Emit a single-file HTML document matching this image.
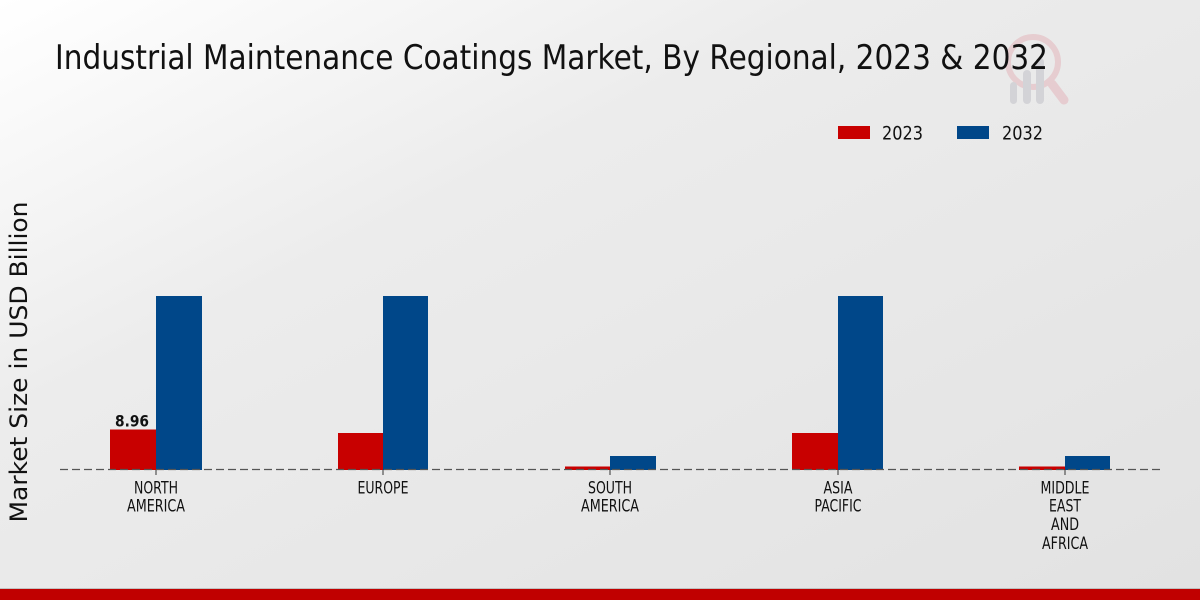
<!DOCTYPE html>
<html>
<head>
<meta charset="utf-8">
<style>
  html, body { margin: 0; padding: 0; }
  body { width: 1200px; height: 600px; overflow: hidden; }
  svg { display: block; }
  text { font-family: "DejaVu Sans", "Liberation Sans", sans-serif; }
</style>
</head>
<body>
<svg width="1200" height="600" viewBox="0 0 1200 600" xmlns="http://www.w3.org/2000/svg">
  <defs>
    <linearGradient id="bg" x1="0" y1="0" x2="1" y2="1" gradientUnits="objectBoundingBox">
      <stop offset="0" stop-color="#ffffff"/>
      <stop offset="0.35" stop-color="#ececec"/>
      <stop offset="1" stop-color="#e2e2e2"/>
    </linearGradient>
  </defs>
  <rect x="0" y="0" width="1200" height="600" fill="url(#bg)"/>

  <!-- logo watermark -->
  <g opacity="0.85">
    <circle cx="1033" cy="62" r="25" fill="none" stroke="#e6c8cc" stroke-width="6"/>
    <line x1="1052" y1="84" x2="1064" y2="100" stroke="#e6c8cc" stroke-width="9" stroke-linecap="round"/>
    <rect x="1010" y="82" width="7" height="22" rx="3.5" fill="#d0d0d4"/>
    <rect x="1023" y="70" width="8" height="34" rx="4" fill="#d0d0d4"/>
    <rect x="1036" y="58" width="8" height="46" rx="4" fill="#d0d0d4"/>
  </g>

  <!-- title -->
  <text x="55" y="69" font-size="34" fill="#111" textLength="993" lengthAdjust="spacingAndGlyphs">Industrial Maintenance Coatings Market, By Regional, 2023 &amp; 2032</text>

  <!-- legend -->
  <rect x="838" y="126" width="32" height="13" fill="#c80000"/>
  <text x="882" y="139.5" font-size="19" fill="#111" textLength="41" lengthAdjust="spacingAndGlyphs">2023</text>
  <rect x="957" y="126" width="32" height="13" fill="#004789"/>
  <text x="1002" y="139.5" font-size="19" fill="#111" textLength="41" lengthAdjust="spacingAndGlyphs">2032</text>

  <!-- y axis label -->
  <text transform="translate(27,362) rotate(-90)" text-anchor="middle" font-size="24" fill="#111" textLength="321" lengthAdjust="spacingAndGlyphs">Market Size in USD Billion</text>

  <!-- bars -->
  <g>
    <rect x="110" y="429.5" width="46" height="40.5" fill="#c80000"/>
    <rect x="156" y="296" width="46" height="174" fill="#004789"/>

    <rect x="338" y="433" width="45" height="37" fill="#c80000"/>
    <rect x="383" y="296" width="45" height="174" fill="#004789"/>

    <rect x="565" y="466.5" width="45" height="3.5" fill="#c80000"/>
    <rect x="610" y="456" width="46" height="14" fill="#004789"/>

    <rect x="792" y="433" width="46" height="37" fill="#c80000"/>
    <rect x="838" y="296" width="45" height="174" fill="#004789"/>

    <rect x="1019" y="466.5" width="46" height="3.5" fill="#c80000"/>
    <rect x="1065" y="456" width="45" height="14" fill="#004789"/>
  </g>

  <!-- baseline -->
  <line x1="60" y1="469.5" x2="1160" y2="469.5" stroke="#555" stroke-width="1.3" stroke-dasharray="8,4"/>
  <!-- ticks -->
  <g stroke="#333" stroke-width="1">
    <line x1="156" y1="470" x2="156" y2="475"/>
    <line x1="383" y1="470" x2="383" y2="475"/>
    <line x1="610" y1="470" x2="610" y2="475"/>
    <line x1="838" y1="470" x2="838" y2="475"/>
    <line x1="1065" y1="470" x2="1065" y2="475"/>
  </g>

  <!-- value label -->
  <text x="132" y="426.5" text-anchor="middle" font-size="16" font-weight="bold" fill="#111" textLength="34" lengthAdjust="spacingAndGlyphs">8.96</text>

  <!-- category labels -->
  <g font-size="16.5" fill="#111" text-anchor="middle">
    <text x="156" y="493.3" textLength="44" lengthAdjust="spacingAndGlyphs">NORTH</text>
    <text x="156" y="511.5" textLength="58" lengthAdjust="spacingAndGlyphs">AMERICA</text>

    <text x="383" y="493.3" textLength="51" lengthAdjust="spacingAndGlyphs">EUROPE</text>

    <text x="610" y="493.3" textLength="44" lengthAdjust="spacingAndGlyphs">SOUTH</text>
    <text x="610" y="511.5" textLength="58" lengthAdjust="spacingAndGlyphs">AMERICA</text>

    <text x="838" y="493.3" textLength="29" lengthAdjust="spacingAndGlyphs">ASIA</text>
    <text x="838" y="511.5" textLength="47" lengthAdjust="spacingAndGlyphs">PACIFIC</text>

    <text x="1065" y="493.3" textLength="49" lengthAdjust="spacingAndGlyphs">MIDDLE</text>
    <text x="1065" y="511.5" textLength="32" lengthAdjust="spacingAndGlyphs">EAST</text>
    <text x="1065" y="530.2" textLength="28" lengthAdjust="spacingAndGlyphs">AND</text>
    <text x="1065" y="549" textLength="46" lengthAdjust="spacingAndGlyphs">AFRICA</text>
  </g>

  <!-- bottom red bar -->
  <rect x="0" y="588" width="1200" height="1" fill="#9a9a9a" opacity="0.5"/>
  <rect x="0" y="589" width="1200" height="11" fill="#c00000"/>
</svg>
</body>
</html>
